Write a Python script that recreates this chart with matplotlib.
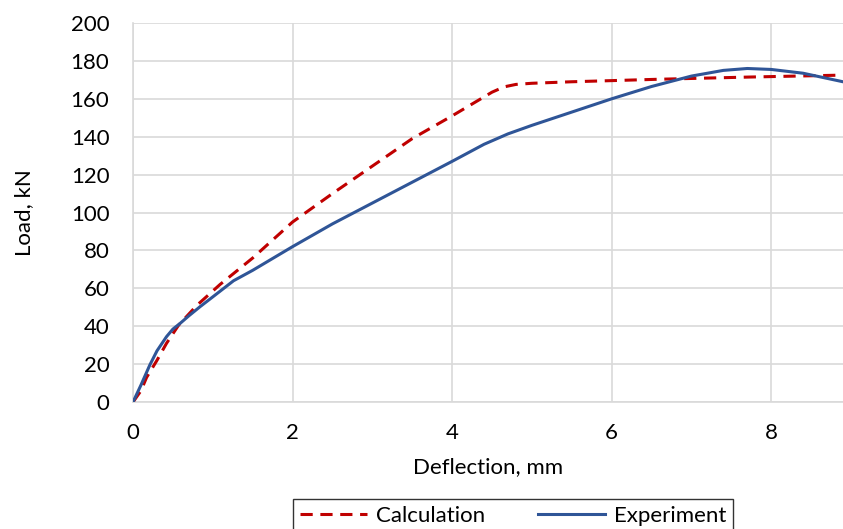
import matplotlib
matplotlib.use("Agg")
import matplotlib.pyplot as plt

plt.rcParams["font.family"] = ["Lato", "DejaVu Sans"]

# calculated load-deflection curve
calc_x = [0, 0.1, 0.17, 0.3, 0.42, 0.57, 0.8, 1.09, 1.5, 2.0, 2.5, 3.0, 3.5,
          4.0, 4.3, 4.5, 4.65, 4.8, 5.0, 5.5, 6.0, 6.57, 7.74, 8.89]
calc_y = [0, 6, 13, 22, 31, 40.5, 51, 62, 76, 95, 110, 124.5, 139,
          151, 158.5, 163.5, 166.3, 167.6, 168.2, 169, 169.6, 170.3, 171.5, 172.5]

# experimental curve
exp_x = [0, 0.1, 0.21, 0.3, 0.42, 0.5, 0.59, 0.7, 0.84, 1.0, 1.26, 1.5, 2.0, 2.5,
         3.0, 3.5, 4.0, 4.4, 4.7, 5.0, 5.5, 6.0, 6.5, 7.0, 7.4, 7.7, 8.0, 8.4, 8.9]
exp_y = [0, 9, 19.5, 27, 34.5, 38.5, 41.5, 45.5, 50.3, 55.5, 64, 69.5, 82, 94,
         105, 116, 127, 136, 141.5, 146, 153, 160, 166.5, 172, 175, 176, 175.5, 173.5, 169]

x_ticks = [0, 2, 4, 6, 8]
y_ticks = list(range(0, 201, 20))

fig = plt.figure(figsize=(8.43, 5.29), dpi=100)
ax = fig.add_axes([0.1578, 0.240, 0.8422, 0.7165])

ax.plot(calc_x, calc_y, color="#C00000", lw=2.2, linestyle=(0, (4, 2.5)),
        label="Calculation", zorder=3)
ax.plot(exp_x, exp_y, color="#2F5597", lw=2.2, label="Experiment", zorder=3)

ax.set_xlim(0, 8.9)
ax.set_ylim(0, 200)
ax.set_xticks(x_ticks)
ax.set_yticks(y_ticks)
ax.grid(True, color="#d9d9d9", lw=1.2)
ax.set_axisbelow(True)
for s in ["top", "right"]:
    ax.spines[s].set_visible(False)
for s in ["left", "bottom"]:
    ax.spines[s].set_color("#d9d9d9")
    ax.spines[s].set_linewidth(1.2)
ax.tick_params(length=0, labelsize=16, colors="black")
ax.tick_params(axis="y", pad=17)
ax.tick_params(axis="x", pad=15)

ax.set_xlabel("Deflection, mm", fontsize=16, labelpad=10)
ax.set_ylabel("Load, kN", fontsize=16, labelpad=26)

leg = fig.legend(loc="upper center", bbox_to_anchor=(0.6085, 0.0567), ncol=2,
                 fontsize=16, frameon=True, fancybox=False, edgecolor="black",
                 handlelength=3.0, handletextpad=0.4, columnspacing=2.4,
                 borderpad=0.3, borderaxespad=0)
leg.get_frame().set_linewidth(1.0)

fig.savefig("out.png", dpi=100)
